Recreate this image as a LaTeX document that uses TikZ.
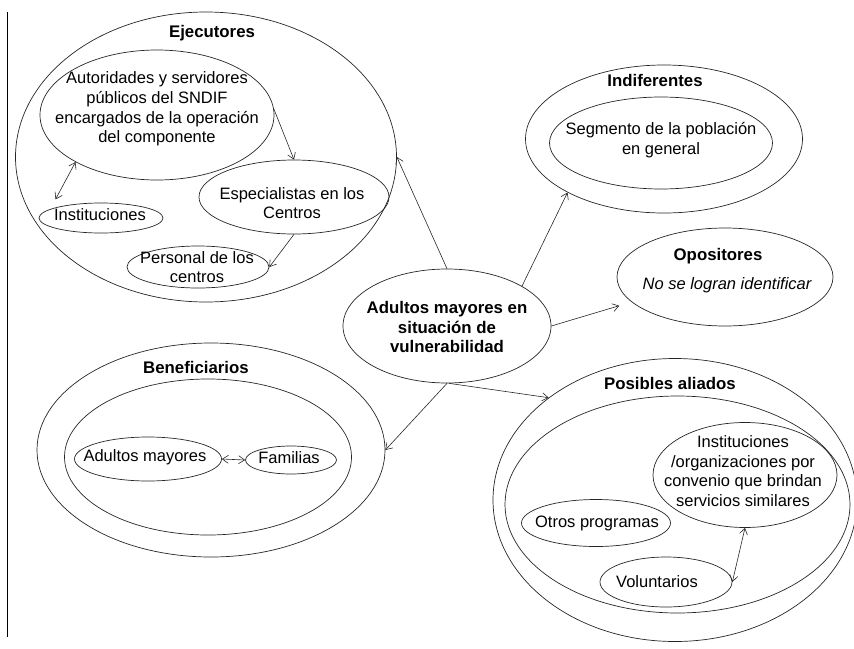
\documentclass[tikz,border=0pt]{standalone}
\usepackage{fontspec}
\setmainfont{Liberation Sans}
\usetikzlibrary{shapes.geometric,arrows.meta}
\begin{document}
\begin{tikzpicture}[x=1pt,y=-1pt,
  ell/.style={draw=black!85, ellipse, inner sep=0pt, line width=0.7pt},
  txt/.style={align=center, text=black, font=\fontsize{16.5}{19.8}\selectfont, inner sep=0pt},
  ttl/.style={txt, font=\fontsize{16.8}{19.8}\selectfont\bfseries},
  con/.style={draw=black!85, line width=0.6pt, -{Straight Barb[length=6pt,width=8pt]}},
  bicon/.style={draw=black!85, line width=0.6pt, {Straight Barb[length=6pt,width=8pt]}-{Straight Barb[length=6pt,width=8pt]}}]
\useasboundingbox (0,0) rectangle (854,648);
% left rule
\coordinate (ltop) at (7,12);
\coordinate (lbot) at (7,637);
\draw[line width=0.8pt] (ltop) -- (lbot);

% Ejecutores
\node[ell, minimum width=381, minimum height=290] (ejec) at (206,157) {};
\node[ttl] (ejecT) at (212,33) {Ejecutores};
\node[ell, minimum width=234, minimum height=130] (aut) at (157,115) {};
\node[txt] (autT) at (157,109) {Autoridades y servidores\\públicos del SNDIF\\encargados de la operación\\del componente};
\node[ell, minimum width=190, minimum height=74] (esp) at (294,197) {};
\node[txt] (espT) at (292,203) {Especialistas en los\\Centros};
\node[ell, minimum width=124, minimum height=30] (inst) at (101,218) {};
\node[txt] (instT) at (100,215) {Instituciones};
\node[ell, minimum width=142, minimum height=42] (pers) at (198,267) {};
\node[txt] (persT) at (197,267) {Personal de los\\centros};

% Centre
\node[ell, minimum width=208, minimum height=114] (cen) at (447,326) {};
\node[ttl] (cenT) at (447,327) {Adultos mayores en\\situación de\\vulnerabilidad};

% Indiferentes
\node[ell, minimum width=277, minimum height=148] (ind) at (664,139) {};
\node[ttl] (indT) at (655,80) {Indiferentes};
\node[ell, minimum width=223, minimum height=92] (seg) at (661,143) {};
\node[txt] (segT) at (661,140) {Segmento de la población\\en general};

% Opositores
\node[ell, minimum width=216, minimum height=98] (opo) at (725,277) {};
\node[ttl] (opoT) at (718,256) {Opositores};
\node[txt, font=\fontsize{16.5}{19.8}\selectfont\itshape] (opoX) at (727,285) {No se logran identificar};

% Beneficiarios
\node[ell, minimum width=348, minimum height=214] (ben) at (211,450) {};
\node[ttl] (benT) at (196,367) {Beneficiarios};
\node[ell, minimum width=287, minimum height=156] (benI) at (208,457) {};
\node[ell, minimum width=147, minimum height=44] (adm) at (148,459) {};
\node[txt] (admT) at (145,457) {Adultos mayores};
\node[ell, minimum width=91, minimum height=28] (fam) at (291,460) {};
\node[txt] (famT) at (289,458) {Familias};

% Posibles aliados
\node[ell, minimum width=364, minimum height=283] (pos) at (675,500) {};
\node[ttl] (posT) at (670,383) {Posibles aliados};
\node[ell, minimum width=345, minimum height=217] (posI) at (677.5,504.5) {};
\node[ell, minimum width=184, minimum height=105] (ins2) at (745,475) {};
\node[txt] (ins2T) at (743,471) {Instituciones\\/organizaciones por\\convenio que brindan\\servicios similares};
\node[ell, minimum width=149, minimum height=47] (otr) at (596,523) {};
\node[txt] (otrT) at (597,523) {Otros programas};
\node[ell, minimum width=132, minimum height=50] (vol) at (666,582) {};
\node[txt] (volT) at (657,582) {Voluntarios};

% Connectors
\draw[con] (aut.3) -- (esp.north);
\draw[bicon, shorten >=11pt] (aut.210) -- (inst.170);
\draw[con] (esp.south) -- (pers.east);
\draw[con] (cen.north) -- (ejec.east);
\draw[con] (cen.28) -- (ind.209);
\draw[con, shorten >=13pt] (cen.east) -- (opo.195);
\draw[con] (cen.south) -- (ben.east);
\draw[con] (cen.272) -- (pos.141);
\draw[bicon] (adm.east) -- (fam.west);
\draw[bicon] (vol.east) -- (ins2.south);
\end{tikzpicture}
\end{document}
